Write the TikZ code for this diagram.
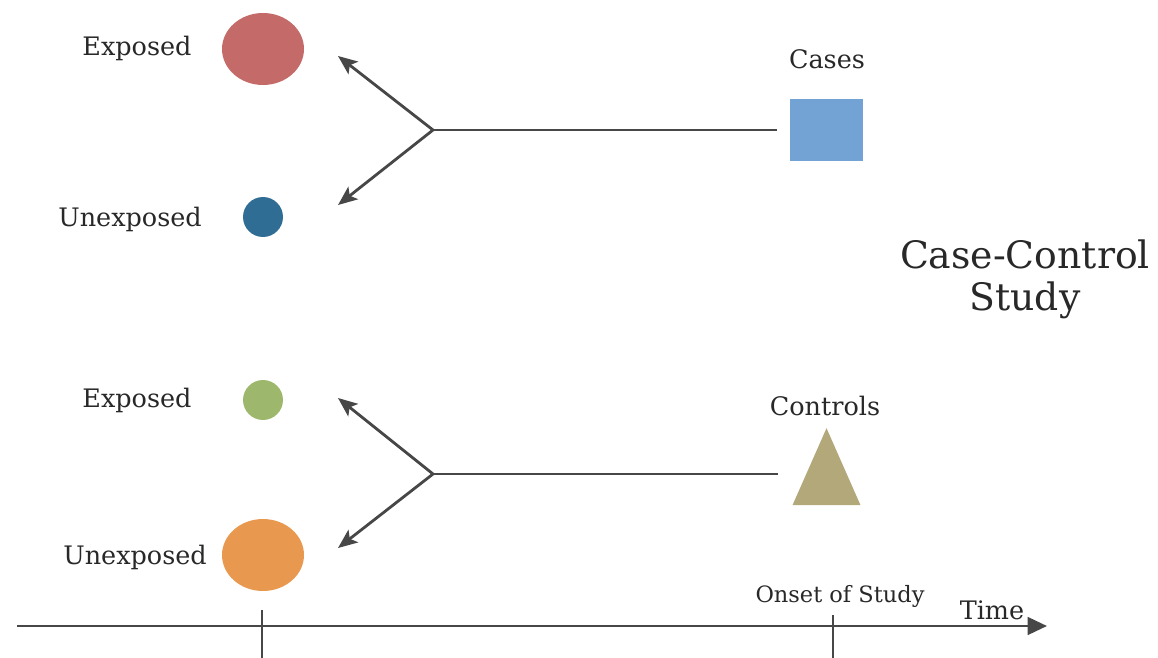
\documentclass[tikz,border=0pt]{standalone}
\usepackage{fontspec}
\setmainfont{DejaVu Serif}
\usepackage{xcolor}
\usetikzlibrary{arrows.meta,shapes.geometric}

\definecolor{expred}{HTML}{C46A68}
\definecolor{unexpblue}{HTML}{2F6D94}
\definecolor{expgreen}{HTML}{9DB86C}
\definecolor{unexporange}{HTML}{E9994F}
\definecolor{caseblue}{HTML}{72A3D4}
\definecolor{ctrlkhaki}{HTML}{B2A87A}
\definecolor{linegray}{HTML}{474747}
\definecolor{textgray}{HTML}{282828}

\begin{document}
\begin{tikzpicture} [x=0.02cm,y=-0.02cm,>={Stealth[length=11pt,width=9pt,inset=2.5pt]},line width=1.6pt,draw=linegray]
  \tikzstyle{every node}=[text=textgray,inner sep=0pt]
  \tikzstyle{lbl}=[font=\fontsize{14.5}{17}\selectfont]
  \tikzstyle{big}=[ellipse,minimum width=1.64cm,minimum height=1.44cm]
  \tikzstyle{small}=[circle,minimum size=0.8cm]
  \tikzstyle{branch}=[->,draw=linegray]

  \useasboundingbox (0,0) rectangle (1158,658);

  % upper half: cases
  \node[big,fill=expred]        (exptop)   at (263,49)  {};
  \node[small,fill=unexpblue]   (unexptop) at (263,217) {};
  \node[lbl] (lexptop)   at (137,48)  {Exposed};
  \node[lbl] (lunexptop) at (130,219) {Unexposed};
  \node[rectangle,fill=caseblue,minimum width=1.46cm,minimum height=1.24cm] (cases) at (826.5,130) {};
  \node[lbl] (lcases) at (827,59) {Cases};

  \coordinate (bt) at (433,130);
  \coordinate (et) at (338,56);
  \coordinate (ut) at (338,205);
  \draw[branch] (bt) -- (et);
  \draw[branch] (bt) -- (ut);
  \draw[linegray] (bt) -- (cases) [shorten >=0.24cm];

  % lower half: controls
  \node[small,fill=expgreen]     (expbot)   at (263,400) {};
  \node[big,fill=unexporange]    (unexpbot) at (263,555) {};
  \node[lbl] (lexpbot)   at (137,400) {Exposed};
  \node[lbl] (lunexpbot) at (135,557) {Unexposed};
  \node[isosceles triangle,isosceles triangle stretches,shape border rotate=90,
        fill=ctrlkhaki,minimum width=1.36cm,minimum height=1.54cm] (controls) at (826.5,483) {};
  \node[lbl] (lcontrols) at (825,406) {Controls};

  \coordinate (bb) at (433,474);
  \coordinate (eb) at (338,398);
  \coordinate (ub) at (338,548);
  \coordinate (cend) at (778,474);
  \draw[branch] (bb) -- (eb);
  \draw[branch] (bb) -- (ub);
  \draw[linegray] (bb) -- (cend);

  % title
  \node[align=center,font=\fontsize{21.5}{24}\selectfont] (title) at (1025,279) {Case-Control\\Study};

  % time axis
  \coordinate (t0) at (17,626);
  \coordinate (t1) at (1047,626);
  \draw[-{Triangle[length=11pt,width=10pt]},linegray] (t0) -- (t1);
  \coordinate (tickA) at (262,610);
  \coordinate (tickB) at (833,615);
  \draw[linegray] (tickA) -- (262,658);
  \draw[linegray] (tickB) -- (833,658);
  \node[font=\fontsize{12.8}{15}\selectfont] (onset) at (840,596) {Onset of Study};
  \node[lbl] (time) at (992,610) {Time};
\end{tikzpicture}
\end{document}
